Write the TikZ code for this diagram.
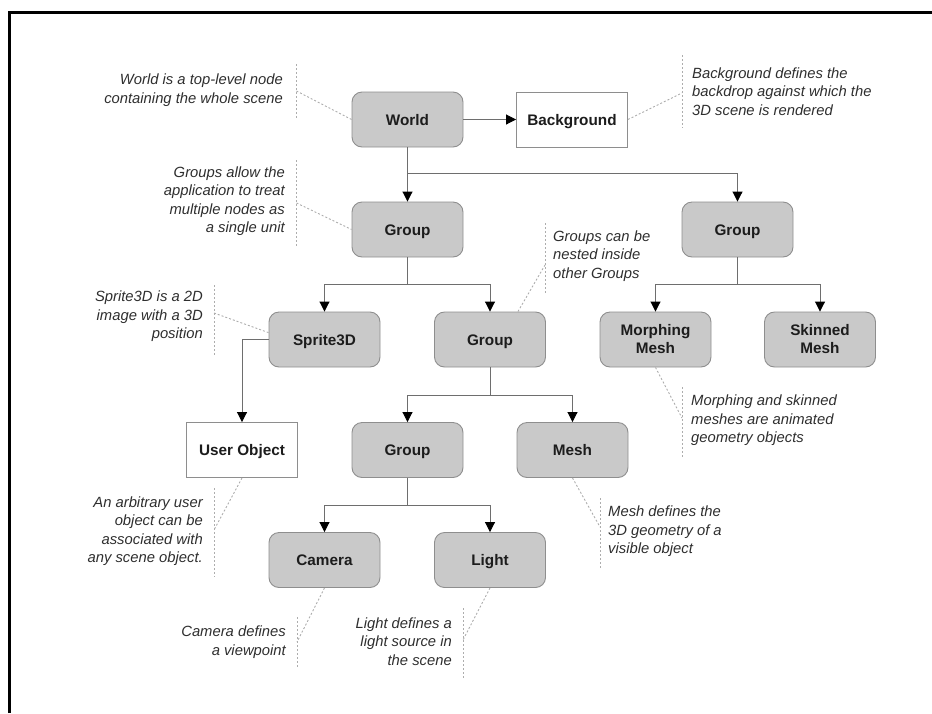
\documentclass[tikz,border=0pt]{standalone}
\usepackage{fontspec}
\setmainfont{Liberation Sans}
\usetikzlibrary{arrows.meta}

\definecolor{nodefill}{HTML}{C9C9C9}
\definecolor{nodeedge}{HTML}{8E8E8E}
\definecolor{linkgray}{HTML}{6E6E6E}
\definecolor{notegray}{HTML}{ADADAD}
\definecolor{notetext}{HTML}{2E2E2E}
\definecolor{labeltext}{HTML}{1C1C1C}

\tikzset{
  base/.style={minimum width=111pt, minimum height=55pt, inner sep=2pt,
    line width=0.9pt, draw=nodeedge, align=center, text=labeltext,
    font=\fontsize{15.3}{18}\selectfont\bfseries},
  oneline/.style={text height=11pt, text depth=0pt},
  graybox/.style={base, fill=nodefill, rounded corners=10pt},
  whitebox/.style={base, fill=white},
  link/.style={draw=linkgray, line width=0.9pt},
  arrowlink/.style={link, -{Triangle[length=10pt,width=10pt,color=black]}},
  leader/.style={draw=notegray, line width=0.9pt, dash pattern=on 2pt off 2pt},
  noteR/.style={anchor=east, align=right, inner sep=0pt, text=notetext,
    font=\fontsize{14.8}{18.5}\selectfont\itshape},
  noteL/.style={anchor=west, align=left, inner sep=0pt, text=notetext,
    font=\fontsize{14.8}{18.5}\selectfont\itshape},
}

\begin{document}
\begin{tikzpicture}[x=1pt, y=-1pt]
\useasboundingbox (0,0) rectangle (932,713);

% outer frame (top and left edges)
\draw[line width=3pt, line join=miter] (9.5,713) -- (9.5,12.5) -- (932,12.5);

% scene graph nodes
\node[graybox, oneline]  (world)  at (407.5,119.5) {World};
\node[whitebox, oneline] (bg)     at (572,119.5)   {Background};
\node[graybox, oneline]  (g1)     at (407.5,229.5) {Group};
\node[graybox, oneline]  (g2)     at (737.5,229.5) {Group};
\node[graybox, oneline]  (sprite) at (324.5,339.5) {Sprite3D};
\node[graybox, oneline]  (g3)     at (490,339.5)   {Group};
\node[graybox]           (morph)  at (655.5,339.5) {Morphing\\Mesh};
\node[graybox]           (skin)   at (820,339.5)   {Skinned\\Mesh};
\node[whitebox, oneline] (user)   at (242,450)     {User Object};
\node[graybox, oneline]  (g4)     at (407.5,450)   {Group};
\node[graybox, oneline]  (mesh)   at (572.5,450)   {Mesh};
\node[graybox, oneline]  (camera) at (324.5,560)   {Camera};
\node[graybox, oneline]  (light)  at (490,560)     {Light};

% branch points
\coordinate (s0) at (407.5,173);
\coordinate (s1) at (407.5,284);
\coordinate (s2) at (737.5,284);
\coordinate (s3) at (490,395);
\coordinate (s4) at (407.5,505);

% connectors
\draw[arrowlink] (world.east) -- (bg.west);
\draw[arrowlink] (world.south) -- (g1.north);
\draw[arrowlink] (s0) -| (g2.north);
\draw[link] (g1.south) -- (s1);
\draw[arrowlink] (s1) -| (sprite.north);
\draw[arrowlink] (s1) -| (g3.north);
\draw[link] (g2.south) -- (s2);
\draw[arrowlink] (s2) -| (morph.north);
\draw[arrowlink] (s2) -| (skin.north);
\draw[arrowlink] (sprite.west) -| (user.north);
\draw[link] (g3.south) -- (s3);
\draw[arrowlink] (s3) -| (g4.north);
\draw[arrowlink] (s3) -| (mesh.north);
\draw[link] (g4.south) -- (s4);
\draw[arrowlink] (s4) -| (camera.north);
\draw[arrowlink] (s4) -| (light.north);

% annotations: text, dotted bar and leader to its node
\node[noteR] (nWorld) at (283,90) {World is a top-level node\\containing the whole scene};
\coordinate (vWorldA) at (296.5,64);  \coordinate (vWorldB) at (296.5,118);
\coordinate (pWorld) at (296.5,91);
\draw[leader] (vWorldA) -- (vWorldB);
\draw[leader] (pWorld) -- (world.west);

\node[noteL] (nBg) at (692,91.5) {Background defines the\\backdrop against which the\\3D scene is rendered};
\coordinate (vBgA) at (682,55);  \coordinate (vBgB) at (682,128);
\coordinate (pBg) at (682,93);
\draw[leader] (vBgA) -- (vBgB);
\draw[leader] (bg.east) -- (pBg);

\node[noteR] (nG1) at (285,201) {Groups allow the\\application to treat\\multiple nodes as\\a single unit};
\coordinate (vG1A) at (296.5,160);  \coordinate (vG1B) at (296.5,247);
\coordinate (pG1) at (296.5,203);
\draw[leader] (vG1A) -- (vG1B);
\draw[leader] (pG1) -- (g1.west);

\node[noteL] (nG3) at (553,256) {Groups can be\\nested inside\\other Groups};
\coordinate (vG3A) at (545,223);  \coordinate (vG3B) at (545,293);
\coordinate (pG3) at (545,265);
\draw[leader] (vG3A) -- (vG3B);
\draw[leader] (g3.45) -- (pG3);

\node[noteR] (nSprite) at (203,316.5) {Sprite3D is a 2D\\image with a 3D\\position};
\coordinate (vSpA) at (214,285);  \coordinate (vSpB) at (214,355);
\coordinate (pSp) at (214,313);
\draw[leader] (vSpA) -- (vSpB);
\draw[leader] (pSp) -- (sprite.173);

\node[noteL] (nMorph) at (691,420.5) {Morphing and skinned\\meshes are animated\\geometry objects};
\coordinate (vMoA) at (682,387);  \coordinate (vMoB) at (682,458);
\coordinate (pMo) at (682,418);
\draw[leader] (vMoA) -- (vMoB);
\draw[leader] (morph.south) -- (pMo);

\node[noteR] (nUser) at (203,531) {An arbitrary user\\object can be\\associated with\\any scene object.};
\coordinate (vUsA) at (214,488);  \coordinate (vUsB) at (214,577);
\coordinate (pUs) at (214,530);
\draw[leader] (vUsA) -- (vUsB);
\draw[leader] (user.south) -- (pUs);

\node[noteL] (nMesh) at (608,531.5) {Mesh defines the\\3D geometry of a\\visible object};
\coordinate (vMeA) at (600,498);  \coordinate (vMeB) at (600,568);
\coordinate (pMe) at (600,527);
\draw[leader] (vMeA) -- (vMeB);
\draw[leader] (mesh.south) -- (pMe);

\node[noteR] (nCam) at (286,642) {Camera defines\\a viewpoint};
\coordinate (vCaA) at (297,617);  \coordinate (vCaB) at (297,668);
\coordinate (pCa) at (297,642);
\draw[leader] (vCaA) -- (vCaB);
\draw[leader] (camera.south) -- (pCa);

\node[noteR] (nLight) at (452,641.5) {Light defines a\\light source in\\the scene};
\coordinate (vLiA) at (463,608);  \coordinate (vLiB) at (463,679);
\coordinate (pLi) at (463,640);
\draw[leader] (vLiA) -- (vLiB);
\draw[leader] (light.south) -- (pLi);

\end{tikzpicture}
\end{document}
